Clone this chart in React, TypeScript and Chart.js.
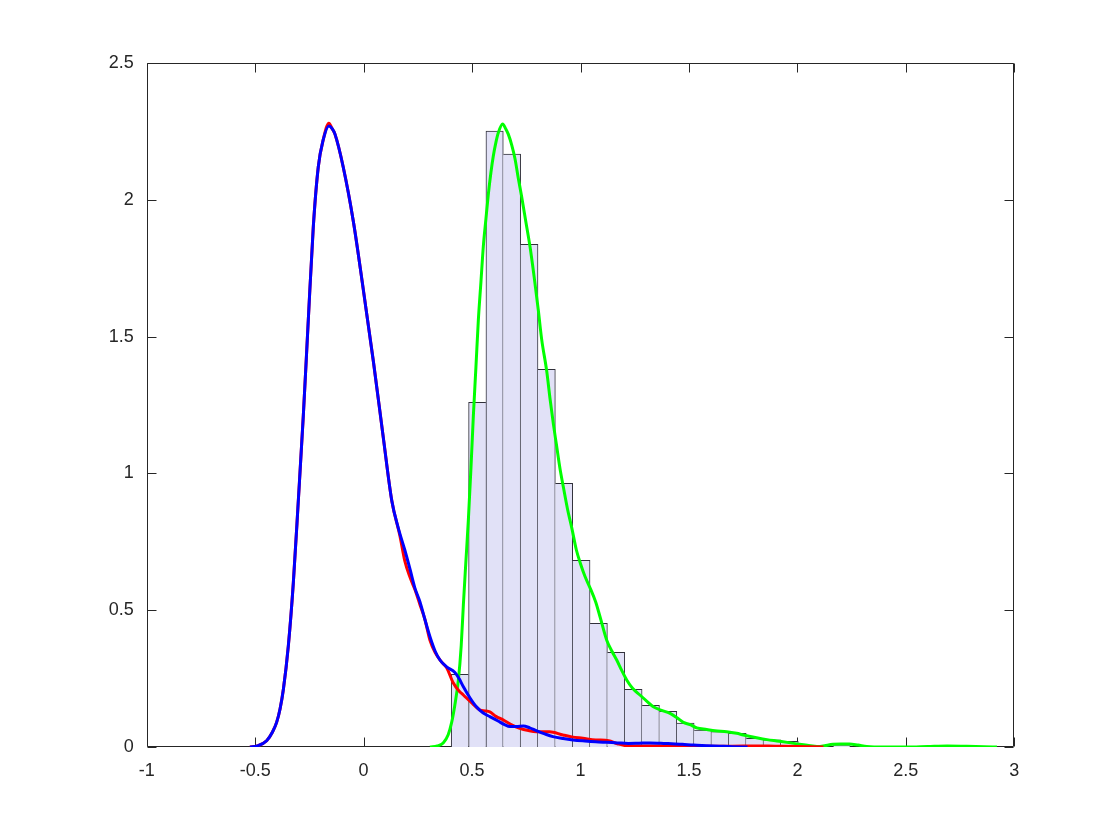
import React, { useEffect, useRef } from "react";
import { Chart, registerables } from "chart.js";

Chart.register(...registerables);

// Histogram bins (centers) and heights
const binCenters = [0.444, 0.524, 0.604, 0.684, 0.764, 0.844, 0.924, 1.004, 1.084, 1.164, 1.244, 1.324, 1.404, 1.484, 1.564, 1.644, 1.724, 1.804, 1.884, 1.964, 2.044, 2.124, 2.204];
const binHeights = [0.266, 1.26, 2.251, 2.167, 1.837, 1.38, 0.964, 0.682, 0.452, 0.346, 0.211, 0.152, 0.13, 0.087, 0.062, 0.056, 0.05, 0.032, 0.026, 0.021, 0, 0, 0.005];

// Blue density curve
const blueX = [-0.524, -0.49, -0.447, -0.42, -0.401, -0.385, -0.37, -0.347, -0.324, -0.301, -0.278, -0.255, -0.232, -0.209, -0.186, -0.16, -0.145, -0.132, -0.094, -0.047, -0.001, 0.045, 0.091, 0.13, 0.16, 0.19, 0.214, 0.237, 0.26, 0.283, 0.306, 0.33, 0.352, 0.383, 0.421, 0.44, 0.46, 0.49, 0.52, 0.55, 0.582, 0.62, 0.65, 0.674, 0.705, 0.736, 0.766, 0.796, 0.835, 0.873, 0.92, 0.965, 1.02, 1.07, 1.12, 1.17, 1.22, 1.27, 1.32, 1.37, 1.42, 1.47, 1.52, 1.58, 1.64, 1.7, 1.77];
const blueY = [0, 0.004, 0.023, 0.055, 0.09, 0.14, 0.21, 0.37, 0.6, 0.9, 1.21, 1.56, 1.9, 2.12, 2.22, 2.27, 2.26, 2.24, 2.12, 1.92, 1.67, 1.41, 1.13, 0.9, 0.8, 0.72, 0.65, 0.58, 0.53, 0.465, 0.403, 0.35, 0.318, 0.293, 0.272, 0.25, 0.22, 0.18, 0.147, 0.125, 0.111, 0.095, 0.082, 0.075, 0.075, 0.077, 0.07, 0.06, 0.048, 0.038, 0.031, 0.026, 0.022, 0.019, 0.017, 0.015, 0.013, 0.014, 0.015, 0.014, 0.012, 0.01, 0.007, 0.005, 0.003, 0.001, 0];

// Red density curve
const redX = [-0.524, -0.49, -0.447, -0.42, -0.401, -0.385, -0.37, -0.347, -0.324, -0.301, -0.278, -0.255, -0.232, -0.209, -0.186, -0.16, -0.145, -0.132, -0.094, -0.047, -0.001, 0.045, 0.091, 0.13, 0.168, 0.19, 0.214, 0.237, 0.26, 0.283, 0.306, 0.33, 0.36, 0.383, 0.413, 0.44, 0.46, 0.5, 0.537, 0.56, 0.582, 0.61, 0.643, 0.68, 0.72, 0.76, 0.796, 0.857, 0.919, 0.96, 1.011, 1.07, 1.13, 1.17, 1.22, 1.3, 1.4, 1.5, 1.6, 1.7, 1.8, 1.9, 2.0, 2.06, 2.12];
const redY = [0, 0.004, 0.023, 0.055, 0.09, 0.14, 0.21, 0.37, 0.6, 0.9, 1.21, 1.56, 1.9, 2.12, 2.22, 2.28, 2.26, 2.24, 2.12, 1.92, 1.67, 1.41, 1.13, 0.9, 0.77, 0.68, 0.62, 0.575, 0.52, 0.465, 0.39, 0.345, 0.31, 0.29, 0.235, 0.205, 0.19, 0.16, 0.135, 0.132, 0.128, 0.112, 0.099, 0.082, 0.068, 0.06, 0.056, 0.056, 0.044, 0.037, 0.032, 0.026, 0.023, 0.012, 0.004, 0.004, 0.004, 0.003, 0.003, 0.003, 0.004, 0.003, 0.002, 0.001, 0];

// Green density curve
const greenX = [0.306, 0.34, 0.367, 0.39, 0.406, 0.42, 0.437, 0.45, 0.46, 0.471, 0.483, 0.495, 0.506, 0.518, 0.529, 0.541, 0.552, 0.564, 0.575, 0.587, 0.598, 0.61, 0.621, 0.641, 0.655, 0.667, 0.683, 0.698, 0.713, 0.729, 0.748, 0.767, 0.786, 0.805, 0.821, 0.844, 0.86, 0.875, 0.89, 0.905, 0.921, 0.94, 0.96, 0.981, 1.0, 1.02, 1.045, 1.07, 1.09, 1.121, 1.145, 1.167, 1.19, 1.213, 1.24, 1.274, 1.305, 1.336, 1.37, 1.413, 1.445, 1.474, 1.505, 1.536, 1.582, 1.62, 1.674, 1.72, 1.751, 1.812, 1.86, 1.905, 1.96, 2.01, 2.06, 2.104, 2.164, 2.2, 2.24, 2.28, 2.32, 2.4, 2.5, 2.6, 2.69, 2.78, 2.86, 2.92];
const greenY = [0, 0.004, 0.015, 0.045, 0.09, 0.15, 0.245, 0.37, 0.52, 0.67, 0.83, 1.02, 1.21, 1.39, 1.56, 1.7, 1.83, 1.93, 2.02, 2.1, 2.16, 2.21, 2.245, 2.277, 2.26, 2.24, 2.2, 2.15, 2.08, 2.01, 1.92, 1.83, 1.72, 1.6, 1.49, 1.375, 1.27, 1.18, 1.1, 1.02, 0.95, 0.87, 0.8, 0.72, 0.67, 0.625, 0.58, 0.53, 0.476, 0.39, 0.35, 0.318, 0.28, 0.245, 0.215, 0.19, 0.168, 0.147, 0.135, 0.123, 0.107, 0.09, 0.082, 0.07, 0.064, 0.059, 0.056, 0.05, 0.044, 0.034, 0.027, 0.022, 0.016, 0.01, 0.005, 0.002, 0.01, 0.011, 0.011, 0.007, 0.002, 0, 0, 0.002, 0.004, 0.003, 0.001, 0];

// Axis ticks
const xTicks = [-1, -0.5, 0, 0.5, 1, 1.5, 2, 2.5, 3];
const yTicks = [0, 0.5, 1, 1.5, 2, 2.5];

const AXIS_COLOR = "#262626";
const FONT = { family: "'Liberation Sans', Arial, Helvetica, sans-serif", size: 18 };

const zip = (xs: number[], ys: number[]) => xs.map((x, i) => ({ x, y: ys[i] }));

const boxPlugin = {
  id: "boxPlugin",
  beforeDatasetsDraw(chart: any) {
    const { ctx, chartArea } = chart;
    const { left, right, top, bottom } = chartArea;
    const xs = chart.scales.x;
    const ys = chart.scales.y;
    const L = Math.round(left) + 0.5;
    const R = Math.round(right) - 0.5;
    const T = Math.round(top) + 0.5;
    const B = Math.round(bottom) - 0.5;
    const tl = 9;
    ctx.save();
    ctx.strokeStyle = AXIS_COLOR;
    ctx.lineWidth = 1;
    ctx.beginPath();
    ctx.rect(L, T, R - L, B - T);
    for (const v of xTicks) {
      const p = Math.round(xs.getPixelForValue(v)) + 0.5;
      ctx.moveTo(p, B);
      ctx.lineTo(p, B - tl);
      ctx.moveTo(p, T);
      ctx.lineTo(p, T + tl);
    }
    for (const v of yTicks) {
      const p = Math.round(ys.getPixelForValue(v)) + 0.5;
      ctx.moveTo(L, p);
      ctx.lineTo(L + tl, p);
      ctx.moveTo(R, p);
      ctx.lineTo(R - tl, p);
    }
    ctx.stroke();
    ctx.restore();
  },
};

const lineDs = (label: string, xs: number[], ys: number[], color: string, order: number) =>
  ({
    type: "line",
    label,
    data: zip(xs, ys),
    borderColor: color,
    borderWidth: 3,
    pointRadius: 0,
    fill: false,
    cubicInterpolationMode: "monotone",
    borderJoinStyle: "round",
    order,
  }) as any;

export default function App() {
  const ref = useRef<HTMLCanvasElement | null>(null);
  useEffect(() => {
    if (!ref.current) return;
    const chart = new Chart(ref.current, {
      type: "bar",
      data: {
        datasets: [
          lineDs("blue", blueX, blueY, "#0000ff", 1),
          lineDs("red", redX, redY, "#ff0000", 2),
          lineDs("green", greenX, greenY, "#00ff00", 3),
          {
            type: "bar",
            label: "hist",
            data: zip(binCenters, binHeights),
            backgroundColor: "#e1e1f7",
            borderColor: "#30303a",
            borderSkipped: false,
            borderWidth: (c: any) => {
              const i = c.dataIndex;
              const h = binHeights;
              const cur = h[i] ?? 0;
              const prev = i > 0 ? h[i - 1] : 0;
              const next = i < h.length - 1 ? h[i + 1] : 0;
              return { top: 1, bottom: 0, left: cur >= prev ? 1 : 0, right: cur > next ? 1 : 0 };
            },
            barPercentage: 1,
            categoryPercentage: 1,
            order: 10,
          } as any,
        ],
      },
      options: {
        responsive: false,
        animation: false,
        devicePixelRatio: 1,
        layout: { padding: { left: 0, right: 105.7, top: 63, bottom: 0 } },
        plugins: { legend: { display: false }, tooltip: { enabled: false }, title: { display: false } },
        scales: {
          x: {
            type: "linear",
            min: -1,
            max: 3,
            offset: false,
            grid: { display: false, drawTicks: false },
            border: { display: false },
            afterBuildTicks: (s: any) => {
              s.ticks = xTicks.map((v) => ({ value: v }));
            },
            afterFit: (s: any) => {
              s.height = 93;
            },
            ticks: {
              color: AXIS_COLOR,
              font: FONT,
              padding: 13,
              maxRotation: 0,
              autoSkip: false,
              callback: (v: any) => String(v),
            },
          },
          y: {
            type: "linear",
            min: 0,
            max: 2.5,
            grid: { display: false, drawTicks: false },
            border: { display: false },
            afterBuildTicks: (s: any) => {
              s.ticks = yTicks.map((v) => ({ value: v }));
            },
            afterFit: (s: any) => {
              s.width = 146.7;
            },
            ticks: {
              color: AXIS_COLOR,
              font: FONT,
              padding: 13,
              callback: (v: any) => String(v),
            },
          },
        },
      },
      plugins: [boxPlugin],
    });
    return () => chart.destroy();
  }, []);
  return (
    <div style={{ position: "fixed", left: 0, top: 0, width: 1120, height: 840, background: "#fff" }}>
      <canvas ref={ref} width={1120} height={840} style={{ display: "block" }} />
    </div>
  );
}
